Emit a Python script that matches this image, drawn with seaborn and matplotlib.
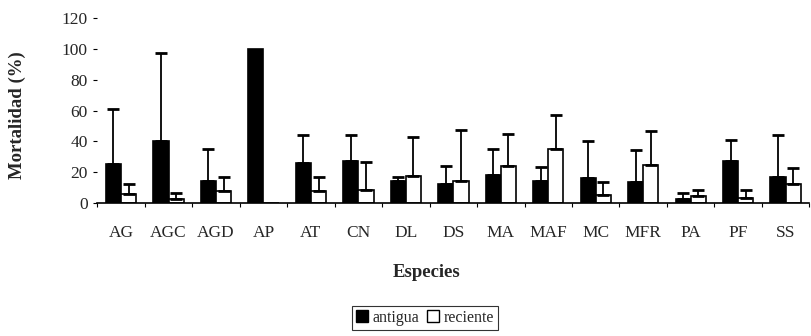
import numpy as np
import pandas as pd
import matplotlib
matplotlib.use("Agg")
import matplotlib.pyplot as plt
import seaborn as sns
from matplotlib.patches import Patch

especies = ["AG", "AGC", "AGD", "AP", "AT", "CN", "DL", "DS", "MA", "MAF", "MC", "MFR", "PA", "PF", "SS"]
antigua = [25.5, 40.5, 14.5, 100, 26, 27.3, 14, 12, 18, 14.5, 16, 13.8, 2.6, 27, 17]
antigua_sup = [61, 97.5, 35, np.nan, 44.4, 44.4, 17, 24, 35, 23.6, 40, 34.4, 6.7, 41, 44]
reciente = [5.5, 2.6, 7.5, 0, 8, 8.6, 17.7, 14, 24.2, 35, 5.4, 24.7, 4.5, 3.5, 12]
reciente_sup = [12.4, 6.5, 17, np.nan, 17, 26.6, 43, 47.5, 44.8, 57.3, 13.6, 46.5, 8.7, 8.7, 23]
series = ["antigua", "reciente"]

df = pd.DataFrame({
    "Especies": especies * 2,
    "Periodo": [series[0]] * len(especies) + [series[1]] * len(especies),
    "Mortalidad": antigua + reciente,
})
tops = {series[0]: antigua_sup, series[1]: reciente_sup}

sns.set_style("white")
plt.rcParams["font.family"] = ["Liberation Serif", "DejaVu Serif"]

fig = plt.figure(figsize=(8.11, 3.36), dpi=100)
ax = fig.add_axes([0.12, 0.396, 0.878, 0.55])

sns.barplot(data=df, x="Especies", y="Mortalidad", hue="Periodo", order=especies,
            hue_order=series, palette={"antigua": "black", "reciente": "white"},
            edgecolor="black", linewidth=1.2, width=0.64, errorbar=None, ax=ax,
            legend=False)

for cont, s in zip(ax.containers, series):
    for bar in cont:
        cx = bar.get_x() + bar.get_width() / 2
        i = int(round(cx))
        h = bar.get_height()
        top = tops[s][i]
        if np.isnan(top):
            continue
        ax.errorbar([cx], [h], yerr=[[0], [top - h]], fmt="none", ecolor="black",
                    elinewidth=1.3, capsize=4, capthick=2.0, zorder=3)

ax.set_ylim(0, 120)
ax.set_xlim(-0.5, len(especies) - 0.5)
ax.set_yticks(np.arange(0, 121, 20))
ax.tick_params(axis="y", direction="out", length=3, width=0.8, color="black",
               labelsize=12.5, pad=4, left=True)
ax.tick_params(axis="x", length=0, labelsize=12.5, pad=16)
ax.set_xticks(np.arange(-0.5, len(especies), 1.0), minor=True)
ax.tick_params(axis="x", which="minor", direction="out", length=3, width=0.8,
               color="black", bottom=True)
for sp in ["top", "right", "left"]:
    ax.spines[sp].set_visible(False)
ax.spines["bottom"].set_color("black")
ax.spines["bottom"].set_linewidth(1.2)

ax.set_ylabel("Mortalidad (%)", fontsize=13.5, fontweight="bold")
ax.yaxis.set_label_coords(-0.1, 0.476)
ax.set_xlabel("Especies", fontsize=13.5, fontweight="bold")
ax.xaxis.set_label_coords(0.462, -0.33)

handles = [Patch(facecolor="black", edgecolor="black", label="antigua"),
           Patch(facecolor="white", edgecolor="black", label="reciente")]
leg = fig.legend(handles=handles, loc="center", bbox_to_anchor=(0.524, 0.054), ncol=2,
                 frameon=True, fontsize=11.5, handlelength=0.75, handleheight=0.75,
                 handletextpad=0.3, columnspacing=0.5, borderpad=0.25, fancybox=False)
leg.get_frame().set_edgecolor("black")
leg.get_frame().set_linewidth(0.8)

fig.savefig("out.png", dpi=100, facecolor="white")
